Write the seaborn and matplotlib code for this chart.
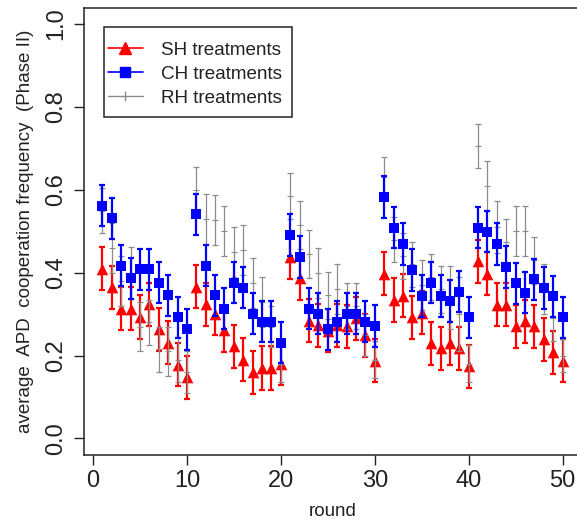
import matplotlib
matplotlib.use("Agg")
import matplotlib.pyplot as plt
from matplotlib.lines import Line2D
from matplotlib.patches import Rectangle
import seaborn as sns
import pandas as pd
import numpy as np

rounds = list(range(1, 51))

sh_mean = [0.410, 0.365, 0.313, 0.313, 0.293, 0.324, 0.263, 0.231, 0.178, 0.148,
           0.366, 0.324, 0.301, 0.261, 0.222, 0.190, 0.160, 0.170, 0.170, 0.180,
           0.437, 0.386, 0.284, 0.273, 0.260, 0.273, 0.271, 0.290, 0.249, 0.188,
           0.397, 0.334, 0.344, 0.292, 0.303, 0.230, 0.218, 0.230, 0.218, 0.174,
           0.428, 0.397, 0.323, 0.323, 0.271, 0.283, 0.271, 0.239, 0.208, 0.188]
sh_err = [0.052] * 50

ch_mean = [0.562, 0.531, 0.417, 0.386, 0.408, 0.408, 0.376, 0.345, 0.292, 0.263,
           0.541, 0.417, 0.345, 0.313, 0.376, 0.364, 0.301, 0.282, 0.282, 0.231,
           0.491, 0.438, 0.313, 0.301, 0.263, 0.282, 0.301, 0.301, 0.282, 0.271,
           0.583, 0.509, 0.469, 0.406, 0.344, 0.376, 0.344, 0.332, 0.354, 0.292,
           0.509, 0.499, 0.469, 0.414, 0.374, 0.352, 0.384, 0.363, 0.343, 0.292]
ch_err = [0.050] * 50

rh_mean = [0.550, 0.460, 0.380, 0.400, 0.270, 0.280, 0.215, 0.210, 0.190, 0.160,
           0.600, 0.530, 0.527, 0.500, 0.450, 0.455, 0.375, 0.330, 0.270, 0.180,
           0.585, 0.515, 0.446, 0.400, 0.345, 0.360, 0.320, 0.320, 0.250, 0.190,
           0.630, 0.480, 0.440, 0.420, 0.370, 0.390, 0.360, 0.340, 0.300, 0.180,
           0.706, 0.610, 0.510, 0.475, 0.500, 0.500, 0.430, 0.360, 0.290, 0.200]
rh_err = [0.055, 0.060, 0.060, 0.063, 0.060, 0.055, 0.055, 0.060, 0.055, 0.050,
          0.055, 0.060, 0.060, 0.060, 0.060, 0.060, 0.060, 0.060, 0.050, 0.045,
          0.055, 0.057, 0.058, 0.060, 0.057, 0.060, 0.055, 0.055, 0.050, 0.045,
          0.050, 0.055, 0.055, 0.055, 0.060, 0.055, 0.057, 0.077, 0.090, 0.045,
          0.054, 0.060, 0.062, 0.055, 0.060, 0.060, 0.057, 0.060, 0.055, 0.040]

series_names = ["SH treatments", "CH treatments", "RH treatments"]
series_colors = {"SH treatments": "#ff0000", "CH treatments": "#0000ff", "RH treatments": "#8c8c8c"}

df = pd.concat([
    pd.DataFrame({"round": rounds, "mean": sh_mean, "err": sh_err, "series": "SH treatments"}),
    pd.DataFrame({"round": rounds, "mean": ch_mean, "err": ch_err, "series": "CH treatments"}),
    pd.DataFrame({"round": rounds, "mean": rh_mean, "err": rh_err, "series": "RH treatments"}),
], ignore_index=True)

sns.set_style("ticks")
plt.rcParams["font.family"] = ["Liberation Sans", "DejaVu Sans"]

W, H = 577, 524
fig = plt.figure(figsize=(W / 100, H / 100), dpi=100)
ax = fig.add_axes([84 / W, 69 / H, 497 / W, 447.5 / H])

# draw order: SH, RH, CH
for name, z in [("SH treatments", 3), ("RH treatments", 4), ("CH treatments", 5)]:
    sub = df[df["series"] == name]
    col = series_colors[name]
    lw = 0.9 if name == "RH treatments" else 1.6
    ax.errorbar(sub["round"], sub["mean"], yerr=sub["err"], fmt="none",
                ecolor=col, elinewidth=lw, capsize=2.5, capthick=lw, zorder=z)

sub = df[df["series"] == "SH treatments"]
sns.scatterplot(data=sub, x="round", y="mean", marker="^", s=70, color="#ff0000",
                edgecolor="#ff0000", linewidth=0, ax=ax, zorder=3.5, legend=False)
sub = df[df["series"] == "RH treatments"]
sns.scatterplot(data=sub, x="round", y="mean", marker="+", s=25, color="#8c8c8c",
                linewidth=0.8, ax=ax, zorder=4.5, legend=False)
sub = df[df["series"] == "CH treatments"]
sns.scatterplot(data=sub, x="round", y="mean", marker="s", s=55, color="#0000ff",
                edgecolor="#0000ff", linewidth=0, ax=ax, zorder=5.5, legend=False)

ax.set_xlim(-0.96, 51.96)
ax.set_ylim(-0.04, 1.04)
ax.set_xticks([0, 10, 20, 30, 40, 50])
ax.set_yticks([0.0, 0.2, 0.4, 0.6, 0.8, 1.0])
ax.set_yticklabels(["0.0", "0.2", "0.4", "0.6", "0.8", "1.0"], rotation=90, va="center")
ax.tick_params(axis="both", direction="out", length=7, width=1, labelsize=17, colors="#222222")
ax.tick_params(axis="x", pad=4)
ax.tick_params(axis="y", pad=5)
for sp in ax.spines.values():
    sp.set_visible(True)
    sp.set_linewidth(1.1)
    sp.set_color("#222222")
ax.set_xlabel("round", fontsize=13.5, labelpad=8, color="#222222")
ax.set_ylabel("average  APD  cooperation frequency  (Phase II)", fontsize=13.5, labelpad=8, color="#222222")

handles = [
    Line2D([0], [0], color="#ff0000", marker="^", markersize=8, lw=1.2),
    Line2D([0], [0], color="#0000ff", marker="s", markersize=7, lw=1.2),
    Line2D([0], [0], color="#8c8c8c", marker="|", markersize=7, lw=1.0),
]
leg = ax.legend(handles, series_names, loc="upper left",
                bbox_to_anchor=(108 / W, 1 - 41.5 / H), bbox_transform=fig.transFigure,
                fontsize=13.6, frameon=False,
                handlelength=1.85, borderpad=0, labelspacing=0.36, handletextpad=0.95,
                borderaxespad=0)
for t in leg.get_texts():
    t.set_color("#222222")
# legend box as in the reference
fig.patches.append(Rectangle((104 / W, 1 - 117 / H), 188 / W, 90 / H,
                             transform=fig.transFigure, fill=False,
                             edgecolor="#222222", linewidth=1.1, zorder=10))

fig.savefig("out.png", dpi=100)
